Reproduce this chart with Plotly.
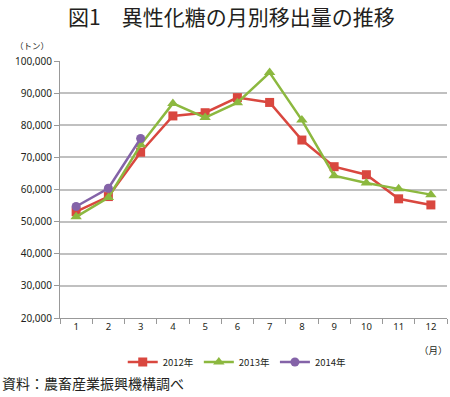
import plotly.graph_objects as go

months = ["1", "2", "3", "4", "5", "6", "7", "8", "9", "10", "11", "12"]
y2012 = [53100, 57800, 71600, 82900, 83900, 88600, 87100, 75400, 67100, 64600, 57100, 55200]
y2013 = [51500, 57500, 73900, 86800, 82400, 87000, 96400, 81600, 64300, 62000, 60200, 58400]
y2014 = [54700, 60400, 75900]
ytick_vals = [20000, 30000, 40000, 50000, 60000, 70000, 80000, 90000, 100000]
ytick_text = ["20,000", "30,000", "40,000", "50,000", "60,000", "70,000", "80,000", "90,000", "100,000"]

FONT = "Noto Sans CJK JP"
NUMFONT = "Noto Sans"
fig = go.Figure()
fig.add_trace(go.Scatter(x=months, y=y2012, name="2012年", mode="lines+markers",
                         line=dict(color="#d9473f", width=2.5),
                         marker=dict(symbol="square", size=9, color="#d9473f")))
fig.add_trace(go.Scatter(x=months, y=y2013, name="2013年", mode="lines+markers",
                         line=dict(color="#8cb83f", width=2.5),
                         marker=dict(symbol="triangle-up", size=10, color="#8cb83f")))
fig.add_trace(go.Scatter(x=months[:3], y=y2014, name="2014年", mode="lines+markers",
                         line=dict(color="#8463a8", width=2.5),
                         marker=dict(symbol="circle", size=9, color="#8463a8")))

fig.update_layout(
    width=450, height=397,
    margin=dict(l=60, r=3, t=61, b=79),
    paper_bgcolor="white", plot_bgcolor="white",
    font=dict(family=FONT, color="#231f20"),
    showlegend=True,
    legend=dict(orientation="h", x=0.458, xanchor="center", y=-0.115, yanchor="top",
                font=dict(size=9.5, family=FONT), traceorder="normal", itemwidth=30),
    xaxis=dict(type="category", range=[-0.5, 11.5], tickson="boundaries", ticks="outside",
               ticklen=5, tickcolor="#999999", showline=True, linecolor="#999999",
               linewidth=1, showgrid=False, tickfont=dict(size=9.5, family=NUMFONT)),
    yaxis=dict(range=[20000, 100000], tickvals=ytick_vals, ticktext=ytick_text,
               ticks="outside", ticklen=5, tickcolor="#999999",
               showline=True, linecolor="#999999", linewidth=1,
               showgrid=True, gridcolor="#c0c0c0", gridwidth=1.5,
               tickfont=dict(size=10, family=NUMFONT)),
    annotations=[
        dict(text="図1　異性化糖の月別移出量の推移", x=0.443, xref="paper", y=1.176, yref="paper",
             yanchor="middle", xanchor="center",
             showarrow=False, font=dict(size=21, family=FONT, color="#231f20")),
        dict(text="（トン）", x=-0.072, xref="paper", y=1.062, yref="paper",
             yanchor="middle", xanchor="center",
             showarrow=False, font=dict(size=8.5, family=FONT)),
        dict(text="（月）", x=1.0078, xref="paper", y=-0.125, yref="paper", xanchor="right",
             yanchor="middle", showarrow=False, font=dict(size=9.5, family=FONT)),
        dict(text="資料：農畜産業振興機構調べ", x=-0.155, xref="paper", xanchor="left",
             y=-0.253, yref="paper", yanchor="middle", showarrow=False,
             font=dict(size=14, family=FONT)),
    ],
)
fig.write_html("out.html", config={"displayModeBar": False},
               post_script="document.body.style.margin='0';document.body.style.padding='0';document.body.style.overflow='hidden';")
